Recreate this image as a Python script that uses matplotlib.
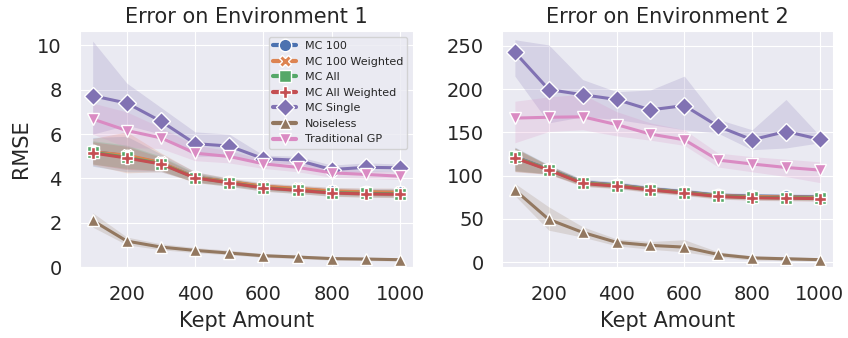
# RMSE vs kept amount for the two environments
from matplotlib import pyplot as plt
import seaborn as sns

sns.set_style('darkgrid')
plt.rcParams['font.family'] = ['DejaVu Sans']

kept = [100, 200, 300, 400, 500, 600, 700, 800, 900, 1000]
names = ['MC 100', 'MC 100 Weighted', 'MC All', 'MC All Weighted',
         'MC Single', 'Noiseless', 'Traditional GP']
markers = ['o', 'X', 's', 'P', 'D', '^', 'v']
colors = sns.color_palette('deep')[:7]

# environment 1: mean, lower band, upper band
env1_mc100 = [5.22, 5.02, 4.70, 4.06, 3.85, 3.63, 3.53, 3.42, 3.38, 3.37]
env1_mc100_lo = [4.55, 4.30, 4.30, 3.85, 3.68, 3.47, 3.38, 3.27, 3.22, 3.20]
env1_mc100_hi = [5.85, 5.90, 5.10, 4.30, 4.00, 3.78, 3.68, 3.58, 3.55, 3.55]
env1_mc100w = [5.20, 5.05, 4.72, 4.05, 3.86, 3.65, 3.55, 3.44, 3.40, 3.38]
env1_mc100w_lo = [4.60, 4.25, 4.30, 3.82, 3.70, 3.50, 3.40, 3.28, 3.23, 3.20]
env1_mc100w_hi = [5.80, 6.10, 5.15, 4.30, 4.02, 3.80, 3.70, 3.60, 3.57, 3.56]
env1_mcall = [5.18, 4.95, 4.67, 4.03, 3.81, 3.58, 3.47, 3.36, 3.32, 3.30]
env1_mcall_lo = [4.65, 4.45, 4.35, 3.82, 3.64, 3.43, 3.32, 3.20, 3.16, 3.14]
env1_mcall_hi = [5.70, 5.50, 5.00, 4.25, 3.98, 3.74, 3.63, 3.52, 3.48, 3.46]
env1_mcallw = [5.15, 4.92, 4.65, 4.02, 3.80, 3.57, 3.46, 3.34, 3.30, 3.28]
env1_mcallw_lo = [4.65, 4.40, 4.35, 3.82, 3.64, 3.42, 3.32, 3.19, 3.15, 3.13]
env1_mcallw_hi = [5.65, 5.45, 4.95, 4.22, 3.95, 3.72, 3.60, 3.50, 3.45, 3.43]
env1_single = [7.73, 7.40, 6.58, 5.57, 5.46, 4.89, 4.82, 4.40, 4.50, 4.48]
env1_single_lo = [6.00, 6.40, 6.00, 5.00, 5.00, 4.72, 4.65, 4.22, 4.30, 4.30]
env1_single_hi = [10.2, 8.30, 7.20, 6.10, 6.00, 5.05, 5.00, 4.60, 4.70, 4.65]
env1_noiseless = [2.10, 1.17, 0.90, 0.75, 0.63, 0.51, 0.45, 0.38, 0.36, 0.33]
env1_noiseless_lo = [1.80, 1.00, 0.78, 0.65, 0.55, 0.44, 0.38, 0.31, 0.29, 0.27]
env1_noiseless_hi = [2.45, 1.35, 1.05, 0.88, 0.76, 0.60, 0.54, 0.47, 0.44, 0.41]
env1_gp = [6.68, 6.16, 5.83, 5.14, 4.99, 4.66, 4.50, 4.25, 4.18, 4.10]
env1_gp_lo = [6.00, 5.40, 5.35, 4.80, 4.70, 4.45, 4.30, 4.05, 4.00, 3.95]
env1_gp_hi = [7.40, 7.00, 6.30, 5.50, 5.25, 4.85, 4.75, 4.45, 4.35, 4.30]

# environment 2
env2_mc100 = [122, 107.5, 92.5, 89.5, 85, 81.5, 77.5, 76.5, 76, 75.5]
env2_mc100_lo = [106, 102, 89, 86, 82, 78.5, 74.5, 73.5, 73, 72.5]
env2_mc100_hi = [133, 112.5, 96, 93, 88, 84.5, 80.5, 79.5, 79, 78.5]
env2_mc100w = [121.5, 107, 92, 89, 84.5, 81, 77, 76, 75.5, 75]
env2_mc100w_lo = [105.5, 102, 88.5, 86, 81.5, 78, 74, 73, 72.5, 72]
env2_mc100w_hi = [132.5, 112, 95.5, 92, 87.5, 84, 80, 79, 78.5, 78]
env2_mcall = [121, 107, 91.5, 88.5, 84, 80.5, 76.5, 75, 74.5, 74]
env2_mcall_lo = [105, 102, 88, 85.5, 81, 77.5, 73.5, 72, 71.5, 71]
env2_mcall_hi = [132, 112, 95, 91.5, 87, 83.5, 79.5, 78, 77.5, 77]
env2_mcallw = [120.5, 106.5, 91, 88, 83.5, 80, 76, 74.5, 74, 73.5]
env2_mcallw_lo = [104.5, 101.5, 87.5, 85, 80.5, 77, 73, 71.5, 71, 70.5]
env2_mcallw_hi = [131.5, 111.5, 94.5, 91, 86.5, 83, 79, 77.5, 77, 76.5]
env2_single = [242.5, 199.5, 193.5, 188, 176, 181, 157, 141.5, 151, 142]
env2_single_lo = [215, 161, 168, 165, 159, 153, 149, 130, 132, 138]
env2_single_hi = [257, 251, 211, 197, 199, 215, 165, 153, 188, 146]
env2_noiseless = [83.5, 49.5, 34.5, 23, 19.5, 17.5, 9, 5, 4, 3]
env2_noiseless_lo = [77, 37, 29, 19, 15, 12, 6, 2.5, 2, 1.5]
env2_noiseless_hi = [91, 64, 41, 27, 24, 26, 12, 7.5, 6.5, 5]
env2_gp = [166.5, 167.5, 168, 159, 148, 141.5, 118, 113.5, 109.5, 106.5]
env2_gp_lo = [138, 151, 153, 146, 141, 135, 110, 104.5, 99, 92]
env2_gp_hi = [186, 191, 194, 174, 161, 153, 126, 122, 119, 116]

env1 = [(env1_mc100, env1_mc100_lo, env1_mc100_hi),
        (env1_mc100w, env1_mc100w_lo, env1_mc100w_hi),
        (env1_mcall, env1_mcall_lo, env1_mcall_hi),
        (env1_mcallw, env1_mcallw_lo, env1_mcallw_hi),
        (env1_single, env1_single_lo, env1_single_hi),
        (env1_noiseless, env1_noiseless_lo, env1_noiseless_hi),
        (env1_gp, env1_gp_lo, env1_gp_hi)]
env2 = [(env2_mc100, env2_mc100_lo, env2_mc100_hi),
        (env2_mc100w, env2_mc100w_lo, env2_mc100w_hi),
        (env2_mcall, env2_mcall_lo, env2_mcall_hi),
        (env2_mcallw, env2_mcallw_lo, env2_mcallw_hi),
        (env2_single, env2_single_lo, env2_single_hi),
        (env2_noiseless, env2_noiseless_lo, env2_noiseless_hi),
        (env2_gp, env2_gp_lo, env2_gp_hi)]

fig = plt.figure(figsize=(8.48, 3.38), dpi=100)
ax1 = fig.add_axes([0.094, 0.21, 0.393, 0.698])
ax2 = fig.add_axes([0.592, 0.21, 0.390, 0.698])

for ax, env, title in [(ax1, env1, 'Error on Environment 1'),
                       (ax2, env2, 'Error on Environment 2')]:
    for (mean, lo, hi), name, m, c in zip(env, names, markers, colors):
        ax.plot(kept, mean, color=c, marker=m, markersize=9, linewidth=2.2,
                linestyle='-', markeredgecolor='white', markeredgewidth=1,
                label=name)
        ax.fill_between(kept, lo, hi, color=c, alpha=0.2, linewidth=0)
    ax.set_title(title, fontsize=15)
    ax.set_xlabel('Kept Amount', fontsize=15, labelpad=5)
    ax.set_xticks([200, 400, 600, 800, 1000])
    ax.tick_params(labelsize=14, pad=9.5)
    ax.set_xlim(62, 1038)

ax1.set_ylim(0, 10.65)
ax1.set_yticks([0, 2, 4, 6, 8, 10])
ax2.set_ylim(-5.5, 267)
ax2.set_yticks([0, 50, 100, 150, 200, 250])
ax1.set_ylabel('RMSE', fontsize=15)
leg = ax1.legend(loc='upper right', fontsize=8)
for h in leg.legend_handles:
    h.set_linewidth(3)
    h.set_markersize(9)

plt.savefig('out.png')
